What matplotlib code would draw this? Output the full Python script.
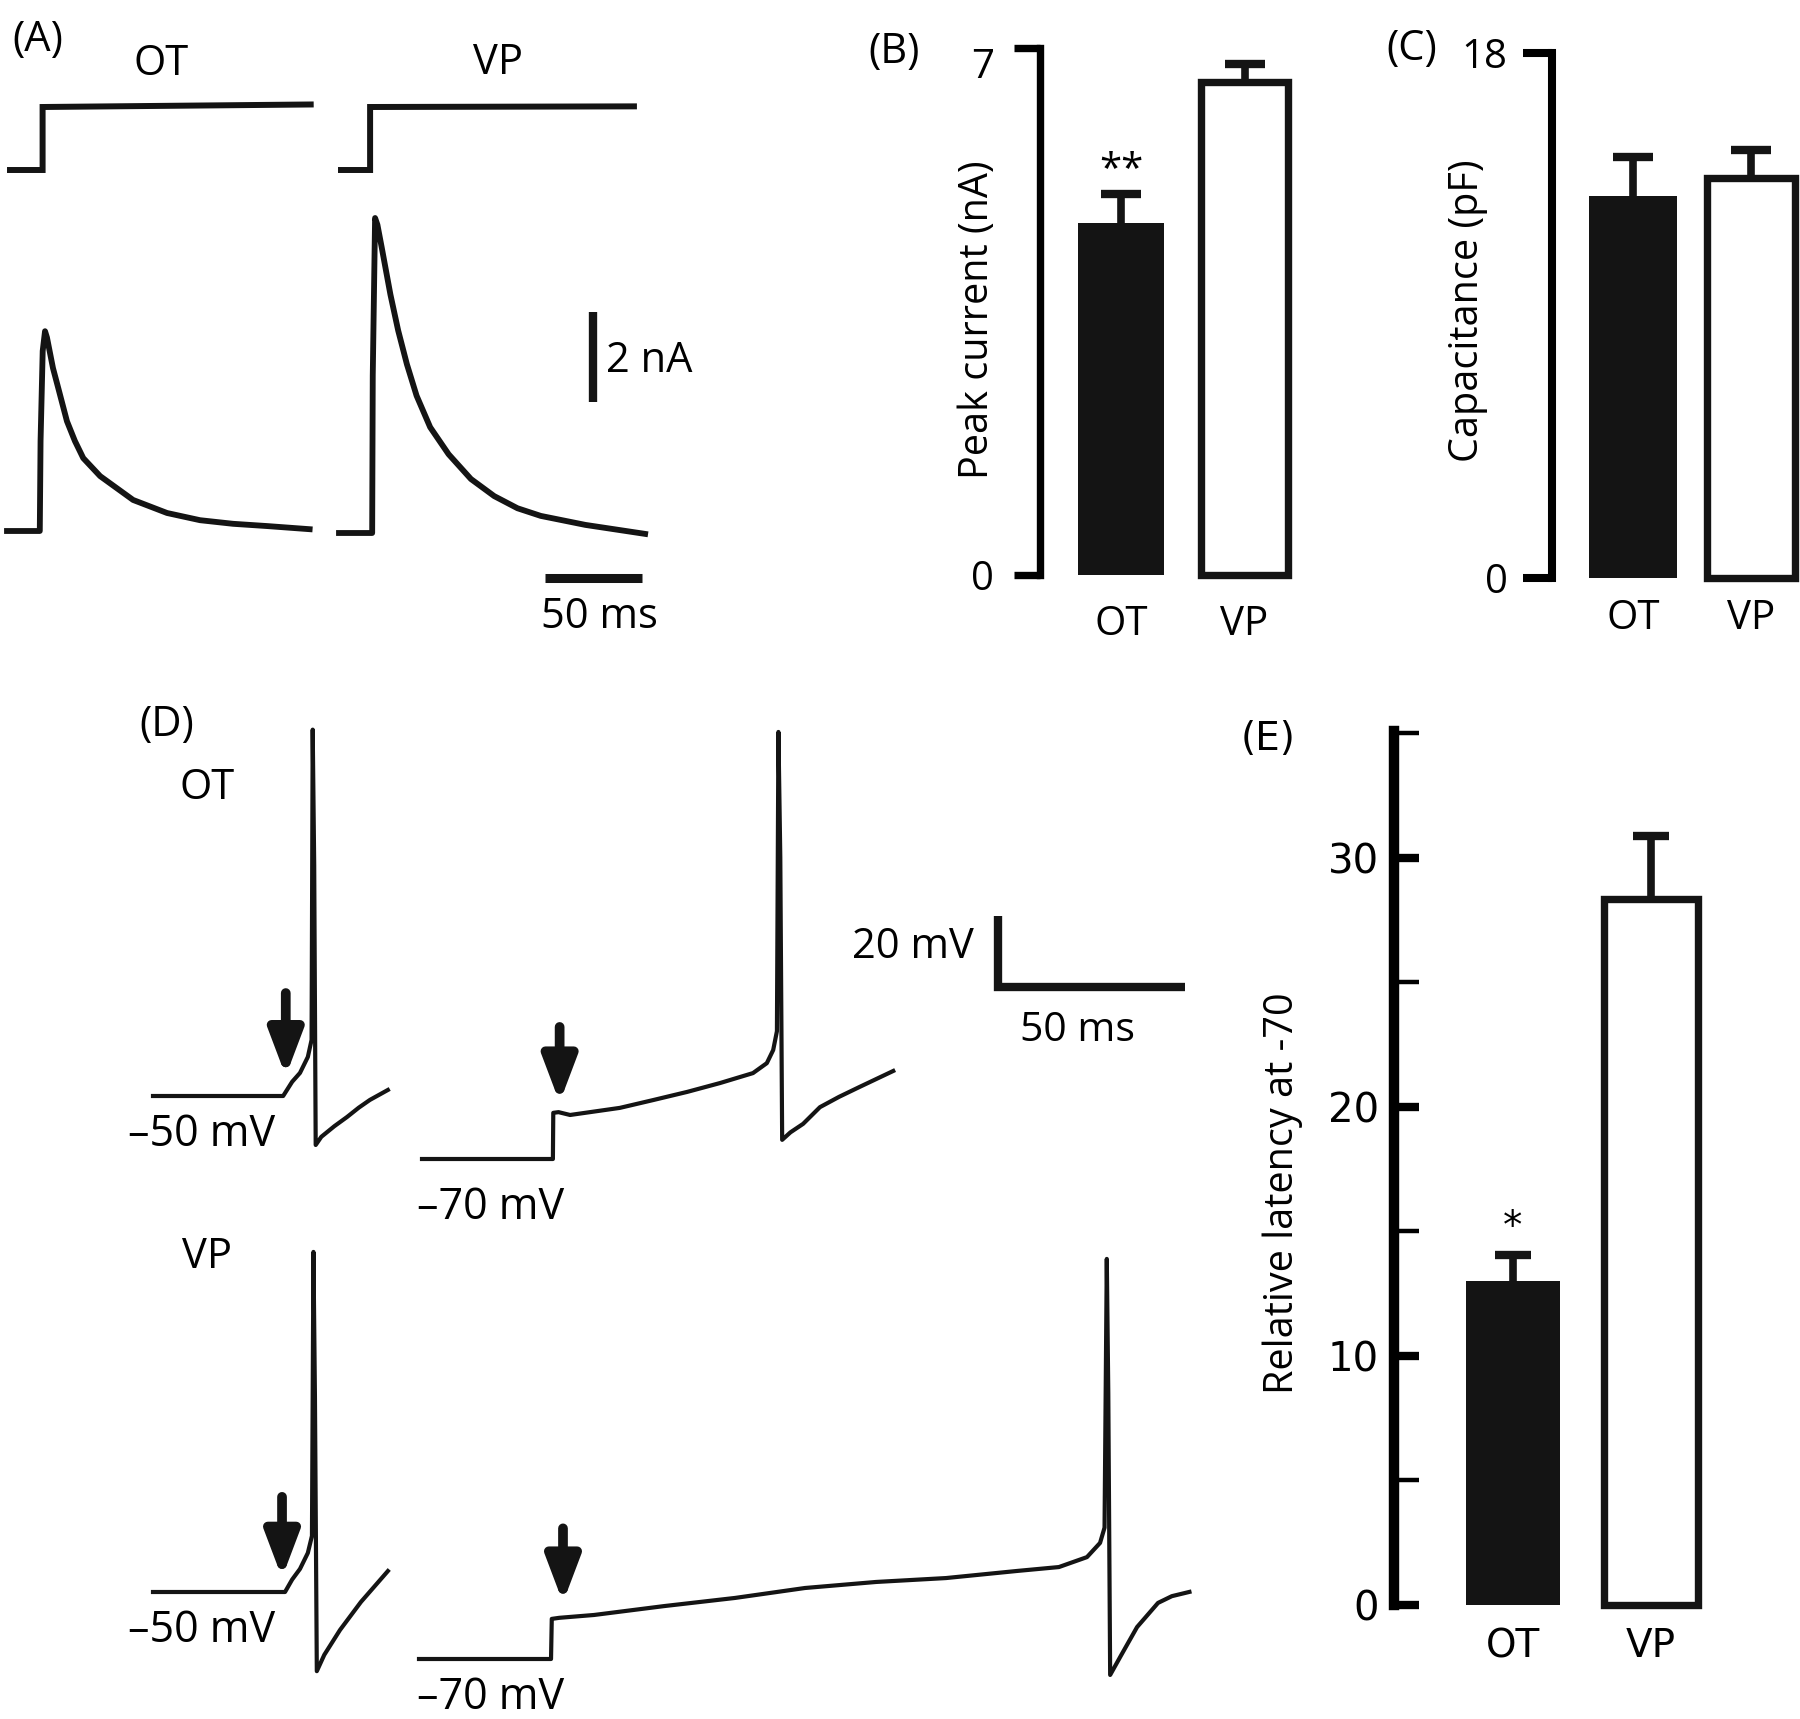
import matplotlib
matplotlib.use("Agg")
import matplotlib.pyplot as plt

W, H, DPI = 1800, 1719, 100

# ---------------- data ----------------
# (A) command steps (normalised) and evoked currents (ms, nA)
ot_cmd_t = [0, 16.8, 16.8, 155.0]
ot_cmd_v = [0, 0, 1.0, 1.04]
vp_cmd_t = [0, 15.0, 15.0, 151.0]
vp_cmd_v = [0, 0, 1.0, 1.01]

ot_cur_t = [0, 16.9, 17.3, 18.4, 19.6, 20.6, 23.7, 26.4, 30.9, 35.0, 39.3, 48.0, 65.0, 82.5,
            99.5, 116.5, 134.0, 156.0]
ot_cur_i = [0, 0, 2.0, 4.0, 4.44, 4.3, 3.62, 3.18, 2.44, 2.0, 1.62, 1.22, 0.69, 0.40,
            0.24, 0.16, 0.11, 0.04]
vp_cur_t = [0, 17.1, 17.4, 18.6, 19.8, 22.0, 26.5, 30.5, 35.0, 40.0, 47.0, 56.5, 68.0, 80.0,
            92.0, 104.0, 127.0, 157.8]
vp_cur_i = [0, 0, 3.5, 7.0, 6.85, 6.35, 5.3, 4.5, 3.75, 3.05, 2.35, 1.75, 1.2, 0.82,
            0.55, 0.38, 0.18, -0.02]

# (B, C, E) group means and SEM
groups = ['OT', 'VP']
peak_mean = [4.68, 6.55]
peak_sem = [0.38, 0.24]
cap_mean = [13.08, 13.73]
cap_sem = [1.35, 0.93]
lat_mean = [13.03, 28.35]
lat_sem = [1.04, 2.53]

# (D) current-clamp traces (ms, mV)
ot50_t = [0, 34.8, 37.2, 39.3, 41.4, 42.4, 42.7, 43.1, 43.5, 45.0, 48.5, 51.9, 55.0, 58.0, 62.8]
ot50_v = [-50, -50, -46.0, -43.5, -39.0, -34.2, 53.2, 15, -63.8, -61.5, -58.5, -55.9, -53.3,
          -51.1, -48.3]
ot70_t = [0, 35.0, 35.1, 36.5, 39.6, 52.9, 61.8, 70.9, 79.7, 88.5, 92.2, 93.9, 94.9, 95.3, 95.8,
          96.3, 98.5, 101.9, 106.4, 111.5, 117.0, 126.0]
ot70_v = [-70, -70, -57.0, -56.8, -57.6, -55.6, -53.4, -51.1, -48.6, -45.8, -43.0, -39.3, -34.0,
          50.3, 15, -64.6, -62.5, -60.1, -55.4, -52.5, -49.7, -45.2]
vp50_t = [0, 35.3, 37.2, 39.3, 41.4, 42.5, 42.9, 43.3, 43.8, 45.8, 50.0, 55.6, 62.8]
vp50_v = [-50, -50, -46.5, -43.5, -39.0, -34.2, 45.8, 5, -72.3, -67.7, -60.7, -52.8, -44.1]
vp70_t = [0, 35.3, 35.5, 37.5, 46.8, 65.5, 84.5, 103.2, 122.2, 140.9, 159.9, 171.1, 178.6,
          182.1, 183.3, 183.9, 184.3, 184.8, 187.6, 192.0, 197.6, 201.3, 206.0]
vp70_v = [-70, -70, -58.7, -58.4, -57.6, -55.1, -52.8, -50.0, -48.3, -47.2, -45.2, -44.1, -41.3,
          -37.3, -33.0, 42.7, 5, -74.5, -69.2, -61.0, -54.2, -52.3, -51.1]
# arrows: time, tail voltage, tip voltage
ot50_arrow = (35.5, -21.0, -44.4)
ot70_arrow = (36.8, -32.8, -54.1)
vp50_arrow = (34.5, -23.2, -46.0)
vp70_arrow = (38.5, -33.2, -54.1)

plt.rcParams['font.family'] = ['Open Sans', 'DejaVu Sans']
FS = 29
BLACK = '#141414'

fig = plt.figure(figsize=(W / DPI, H / DPI), dpi=DPI)


def ftext(x, y, s, **kw):
    kw.setdefault('ha', 'center')
    kw.setdefault('va', 'center')
    kw.setdefault('fontsize', FS)
    fig.text(x / W, 1 - y / H, s, **kw)


def overlay(x_a, y_a, base, ppx, ppy):
    # transparent full-figure axes; data (0, base) sits at pixel (x_a, y_a)
    ax = fig.add_axes([0, 0, 1, 1], facecolor='none')
    ax.set_xlim(-x_a / ppx, (W - x_a) / ppx)
    ax.set_ylim(base + (y_a - H) / ppy, base + y_a / ppy)
    ax.axis('off')
    return ax


def bar_axes(left, top, right, bottom, x0_px, unit_px, ylim, spine_lw=5.3):
    ax = fig.add_axes([left / W, 1 - bottom / H, (right - left) / W, (bottom - top) / H],
                      facecolor='none')
    ax.set_xlim((left - x0_px) / unit_px, (right - x0_px) / unit_px)
    ax.set_ylim(*ylim)
    for s in ('top', 'right', 'bottom'):
        ax.spines[s].set_visible(False)
    ax.spines['left'].set_linewidth(spine_lw)
    ax.spines['left'].set_bounds(*ylim)
    return ax


def draw_bars(ax, means, sems, width, cap):
    eb = ax.errorbar([0, 1], means, yerr=[[0, 0], sems], fmt='none', ecolor=BLACK,
                     elinewidth=5.5, capsize=cap, capthick=6, zorder=1)
    eb[1][0].set_visible(False)  # no lower caps
    ax.bar([0, 1], means, width, color=[BLACK, 'white'], edgecolor=[BLACK, BLACK],
           linewidth=[0, 5.3], zorder=2, clip_on=False)
    ax.set_xticks([0, 1], groups)
    ax.tick_params(axis='x', length=0, labelsize=FS)


# ---------------- (A) ----------------
A_PPX, A_PPY, CMD_PPY = 1.94, 45.0, 63.0
for t, v, xa in ((ot_cmd_t, ot_cmd_v, 10), (vp_cmd_t, vp_cmd_v, 341)):
    ax = overlay(xa, 170, 0, A_PPX, CMD_PPY)
    ax.plot(t, v, color=BLACK, lw=4.3, solid_joinstyle='miter')
for t, i, xa, ya in ((ot_cur_t, ot_cur_i, 7, 531), (vp_cur_t, vp_cur_i, 339, 533)):
    ax = overlay(xa, ya, 0, A_PPX, A_PPY)
    ax.plot(t, i, color=BLACK, lw=4.2, solid_joinstyle='round')
ax = overlay(593, 402, 0, A_PPX, A_PPY)
ax.plot([0, 0], [0, 2], color=BLACK, lw=6, solid_capstyle='butt')
ax = overlay(545, 578, 0, A_PPX, A_PPY)
ax.plot([0, 50], [0, 0], color=BLACK, lw=6.5, solid_capstyle='butt')

ftext(38, 40, '(A)', fontsize=30)
ftext(161, 64, 'OT', fontsize=30)
ftext(498, 63, 'VP', fontsize=30)
ftext(606, 361, '2 nA', ha='left', fontsize=30)
ftext(599, 617, '50 ms', fontsize=30)

# ---------------- (B) ----------------
axb = bar_axes(1040, 48, 1320, 575, 1121, 123.5, (0, 7))
draw_bars(axb, peak_mean, peak_sem, 0.70, 14.5)
axb.set_yticks([0, 7])
axb.tick_params(axis='y', direction='out', length=19, width=5.3, pad=14, labelsize=FS)
axb.tick_params(axis='x', pad=21)
axb.get_yticklabels()[-1].set_va('top')
axb.text(0, peak_mean[0] + peak_sem[0] + 0.31, '**', ha='center', va='center', fontsize=FS)
ftext(894, 52, '(B)', fontsize=30)
ftext(978, 320, 'Peak current (nA)', rotation=90, fontsize=28.5)

# ---------------- (C) ----------------
axc = bar_axes(1552, 53, 1800, 578, 1633, 118, (0, 18), spine_lw=5.8)
draw_bars(axc, cap_mean, cap_sem, 0.74, 14.5)
axc.set_yticks([0, 18])
axc.tick_params(axis='y', direction='out', length=21, width=5.8, pad=11, labelsize=FS)
axc.tick_params(axis='x', pad=15)
ftext(1412, 49, '(C)', fontsize=30)
ftext(1468, 311, 'Capacitance (pF)', rotation=90, fontsize=28.5)

# ---------------- (D) ----------------
D_PPX, D_PPY = 3.74, 3.55
traces = [
    (ot50_t, ot50_v, ot50_arrow, 153, 1096, -50),
    (ot70_t, ot70_v, ot70_arrow, 422, 1159, -70),
    (vp50_t, vp50_v, vp50_arrow, 153, 1592, -50),
    (vp70_t, vp70_v, vp70_arrow, 419, 1659, -70),
]
for t, v, arr, xa, ya, base in traces:
    ax = overlay(xa, ya, base, D_PPX, D_PPY)
    ax.plot(t, v, color=BLACK, lw=3.0, solid_joinstyle='round')
    ax.annotate('', xy=(arr[0], arr[2]), xytext=(arr[0], arr[1]),
                arrowprops=dict(arrowstyle='-|>,head_length=0.45,head_width=0.17',
                                mutation_scale=60, lw=7, color=BLACK,
                                shrinkA=0, shrinkB=0))
ax = overlay(998, 987, 0, D_PPX, D_PPY)
ax.plot([0, 0, 50], [20, 0, 0], color=BLACK, lw=6, solid_joinstyle='miter',
        solid_capstyle='butt')

ftext(167, 725, '(D)', fontsize=30)
ftext(207, 788, 'OT', fontsize=30)
ftext(207, 1257, 'VP', fontsize=30)
for x, y, s in ((202, 1135, '–50 mV'), (491, 1208, '–70 mV'),
                (202, 1631, '–50 mV'), (491, 1698, '–70 mV')):
    ftext(x, y, s, fontsize=31)
ftext(913, 947, '20 mV', fontsize=30)
ftext(1078, 1031, '50 ms', fontsize=29.5)

# ---------------- (E) ----------------
axe = bar_axes(1394, 731, 1780, 1605, 1513, 138, (0, 35.1), spine_lw=7.5)
draw_bars(axe, lat_mean, lat_sem, 0.68, 13)
axe.set_yticks([0, 10, 20, 30])
axe.set_yticks([5, 15, 25, 35], minor=True)
axe.tick_params(axis='y', which='major', direction='in', length=18, width=6, pad=11,
                labelsize=29, labelfontfamily='DejaVu Sans')
axe.tick_params(axis='y', which='minor', direction='in', length=18, width=3.2)
axe.tick_params(axis='x', pad=16, labelsize=28, labelfontfamily='DejaVu Sans')
axe.text(0, lat_mean[0] + lat_sem[0] + 1.13, '*', ha='center', va='center', fontsize=28,
         family='DejaVu Sans')
ftext(1268, 739, '(E)', family='DejaVu Sans', fontsize=28)
ftext(1283, 1193, 'Relative latency at -70', rotation=90, fontsize=28.5)

fig.savefig('out.png', dpi=DPI)
